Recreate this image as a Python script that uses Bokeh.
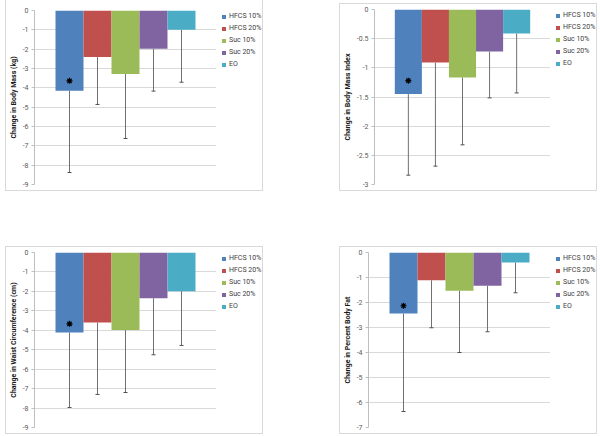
from bokeh.plotting import figure
from bokeh.models import (ColumnDataSource, FactorRange, Range1d, Whisker, TeeHead,
                          FixedTicker, Spacer, Legend, LegendItem)
from bokeh.layouts import row, column
from bokeh.embed import file_html
from bokeh.resources import INLINE

series = ["HFCS 10%", "HFCS 20%", "Suc 10%", "Suc 20%", "EO"]
colors = ["#4F81BD", "#C0504D", "#9BBB59", "#8064A2", "#4BACC6"]

mass_change = [-4.15, -2.41, -3.28, -1.98, -1.00]
mass_err_low = [-8.38, -4.86, -6.62, -4.17, -3.71]
mass_star = [-3.64]
mass_ticks = [0, -1, -2, -3, -4, -5, -6, -7, -8, -9]
mass_tick_labels = ["0", "-1", "-2", "-3", "-4", "-5", "-6", "-7", "-8", "-9"]

bmi_change = [-1.45, -0.91, -1.165, -0.72, -0.41]
bmi_err_low = [-2.84, -2.685, -2.32, -1.515, -1.43]
bmi_star = [-1.22]
bmi_ticks = [0, -0.5, -1, -1.5, -2, -2.5, -3]
bmi_tick_labels = ["0", "-0.5", "-1", "-1.5", "-2", "-2.5", "-3"]

waist_change = [-4.11, -3.60, -3.99, -2.35, -1.99]
waist_err_low = [-7.97, -7.30, -7.20, -5.26, -4.78]
waist_star = [-3.67]
waist_ticks = [0, -1, -2, -3, -4, -5, -6, -7, -8, -9]
waist_tick_labels = ["0", "-1", "-2", "-3", "-4", "-5", "-6", "-7", "-8", "-9"]

fat_change = [-2.44, -1.11, -1.53, -1.33, -0.40]
fat_err_low = [-6.36, -3.01, -4.00, -3.17, -1.61]
fat_star = [-2.13]
fat_ticks = [0, -1, -2, -3, -4, -5, -6, -7]
fat_tick_labels = ["0", "-1", "-2", "-3", "-4", "-5", "-6", "-7"]

FONT = "Roboto"
BORDER = "1px solid #d9d9d9"


def make_panel(ylabel, vals, err_low, star, ticks, tick_labels,
               w, h, left, right, top, bottom, styles):
    cw = w - right
    p = figure(width=cw, height=h, output_backend="svg", toolbar_location=None,
               x_range=FactorRange(factors=series, range_padding=0.75,
                                   range_padding_units="absolute"),
               y_range=Range1d(min(ticks), max(ticks)),
               min_border_left=left, min_border_right=0,
               min_border_top=top, min_border_bottom=bottom)
    p.outline_line_color = None
    p.background_fill_color = "white"
    p.border_fill_color = "white"
    src = ColumnDataSource(dict(series=series, val=vals, low=err_low, color=colors))
    p.vbar(x="series", top=0, bottom="val", width=1.0, source=src,
           fill_color="color", line_color=None)
    wk = Whisker(base="series", upper="val", lower="low", source=src,
                 line_color="#707070", line_width=1, upper_head=None,
                 lower_head=TeeHead(size=4, line_color="#505050", line_width=1))
    p.add_layout(wk)
    p.scatter(x=[series[0]], y=star, marker="asterisk", size=6, line_width=1.2,
              line_color="black")

    p.xaxis.visible = False
    p.xgrid.grid_line_color = None
    p.ygrid.grid_line_color = "#d9d9d9"
    p.ygrid.ticker = FixedTicker(ticks=ticks)
    ax = p.yaxis[0]
    ax.ticker = FixedTicker(ticks=ticks)
    ax.major_label_overrides = {t: s for t, s in zip(ticks, tick_labels)}
    ax.axis_line_color = "#bfbfbf"
    ax.major_tick_line_color = "#bfbfbf"
    ax.major_tick_out = 3
    ax.major_tick_in = 0
    ax.minor_tick_line_color = None
    ax.major_label_text_font = FONT
    ax.major_label_text_font_size = "7px"
    ax.major_label_text_color = "#595959"
    ax.major_label_standoff = 3
    ax.axis_label = ylabel
    ax.axis_label_text_font = FONT
    ax.axis_label_text_font_size = "7px"
    ax.axis_label_text_font_style = "bold"
    ax.axis_label_text_color = "#1a1a1a"
    ax.axis_label_standoff = 2

    # legend area (same series/colours; swatch renderer has zero-width bars)
    q = figure(width=right, height=h, output_backend="svg", toolbar_location=None,
               x_range=FactorRange(factors=series), y_range=Range1d(50, 60),
               x_axis_type=None, y_axis_type=None,
               min_border_left=3, min_border_right=0,
               min_border_top=top, min_border_bottom=bottom)
    q.outline_line_color = None
    q.xgrid.grid_line_color = None
    q.ygrid.grid_line_color = None
    q.background_fill_color = "white"
    q.border_fill_color = "white"
    sw = q.vbar(x="series", top=0, bottom="val", width=0.0, source=src,
                fill_color="color", line_color=None)
    items = [LegendItem(label=s, renderers=[sw], index=i) for i, s in enumerate(series)]
    lg = Legend(items=items, location="top_left")
    lg.label_text_font = FONT
    lg.label_text_font_size = "7px"
    lg.label_text_color = "#404040"
    lg.glyph_width = 5
    lg.glyph_height = 5
    lg.label_height = 7
    lg.label_standoff = 3
    lg.spacing = 4
    lg.padding = 0
    lg.margin = 2
    lg.border_line_color = None
    lg.background_fill_alpha = 0
    q.add_layout(lg)
    return row(p, q, styles=styles)


p1 = make_panel("Change in Body Mass (kg)", mass_change, mass_err_low, mass_star,
                mass_ticks, mass_tick_labels, 256, 190, 26, 46, 10, 6,
                {"border": BORDER, "border-top": "none"})
p2 = make_panel("Change in Body Mass Index", bmi_change, bmi_err_low, bmi_star,
                bmi_ticks, bmi_tick_labels, 256, 186, 30, 46, 5, 6,
                {"border": BORDER})
p3 = make_panel("Change in Waist Circumference (cm)", waist_change, waist_err_low, waist_star,
                waist_ticks, waist_tick_labels, 256, 186, 26, 46, 5, 6,
                {"border": BORDER})
p4 = make_panel("Change in Percent Body Fat", fat_change, fat_err_low, fat_star,
                fat_ticks, fat_tick_labels, 256, 186, 26, 46, 5, 6,
                {"border": BORDER})

layout = column(
    row(Spacer(width=5, height=10), p1, Spacer(width=76, height=10),
        column(Spacer(width=10, height=3), p2)),
    Spacer(width=10, height=55),
    row(Spacer(width=5, height=10), p3, Spacer(width=76, height=10), p4),
)

html = file_html(layout, INLINE)
html = html.replace("<head>", "<head><style>body{margin:0}</style>", 1)
open("out.html", "w").write(html)
